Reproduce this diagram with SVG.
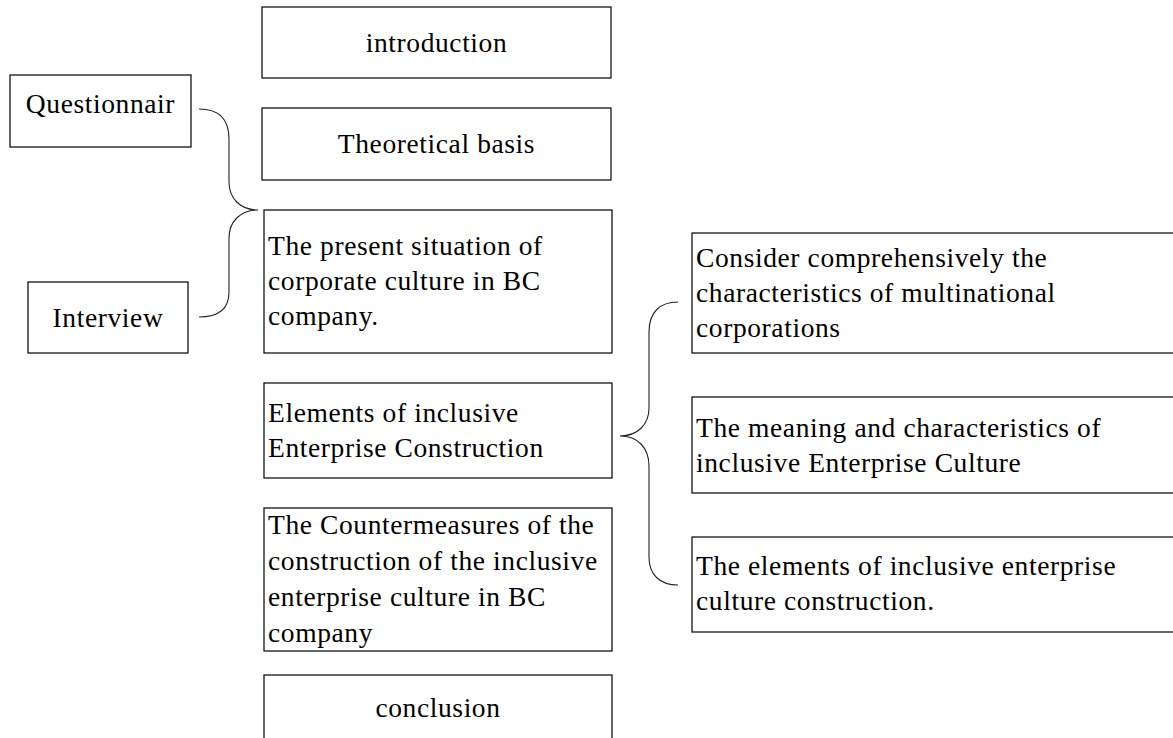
<svg xmlns="http://www.w3.org/2000/svg" width="1173" height="738" viewBox="0 0 1173 738">
<style>
rect{fill:#fff;stroke:#000;stroke-width:1.2}
text{font-family:"Liberation Serif","Times New Roman",serif;font-size:27.5px;fill:#000;letter-spacing:0.6px}
.c{text-anchor:middle}
.brace{fill:none;stroke:#222;stroke-width:1.1}
</style>
<rect x="0" y="0" width="1173" height="738" style="stroke:none"/>
<g id="connectors">
<path class="brace" d="M199,109 C219,109 229,119 229,139 L229,182 C229,198 240,210 258,210 C240,210 229,222 229,238 L229,292 C229,308 219,317 199,317"/>
<path class="brace" d="M678,302 C660,302 649,312 649,332 L649,408 C649,424 638,436 620,436 C638,436 649,448 649,466 L649,557 C649,575 660,585 678,585"/>
</g>
<g id="introduction"><rect x="262" y="7" width="349" height="71"/><text class="c" x="436.5" y="52">introduction</text></g>
<g id="theoretical"><rect x="262" y="108" width="349" height="72"/><text class="c" x="436.5" y="153">Theoretical basis</text></g>
<g id="questionnair"><rect x="10" y="75" width="181" height="72"/><text class="c" x="100.5" y="113">Questionnair</text></g>
<g id="interview"><rect x="28" y="282" width="160" height="71"/><text class="c" x="108" y="327">Interview</text></g>
<g id="present"><rect x="264" y="210" width="348" height="143"/><text x="268" y="255">The present situation of</text><text x="268" y="290">corporate culture in BC</text><text x="268" y="325">company.</text></g>
<g id="elements"><rect x="264" y="383" width="348" height="95"/><text x="268" y="422">Elements of inclusive</text><text x="268" y="457">Enterprise Construction</text></g>
<g id="countermeasures"><rect x="264" y="508" width="348" height="143"/><text x="268" y="534">The Countermeasures of the</text><text x="268" y="570">construction of the inclusive</text><text x="268" y="606">enterprise culture in BC</text><text x="268" y="642">company</text></g>
<g id="conclusion"><rect x="264" y="675" width="348" height="80"/><text class="c" x="438" y="717">conclusion</text></g>
<g id="consider"><rect x="692" y="233" width="500" height="120"/><text x="696" y="267">Consider comprehensively the</text><text x="696" y="302">characteristics of multinational</text><text x="696" y="337">corporations</text></g>
<g id="meaning"><rect x="692" y="397" width="500" height="96"/><text x="696" y="437">The meaning and characteristics of</text><text x="696" y="472">inclusive Enterprise Culture</text></g>
<g id="elements2"><rect x="692" y="537" width="500" height="95"/><text x="696" y="575">The elements of inclusive enterprise</text><text x="696" y="610">culture construction.</text></g>
</svg>
